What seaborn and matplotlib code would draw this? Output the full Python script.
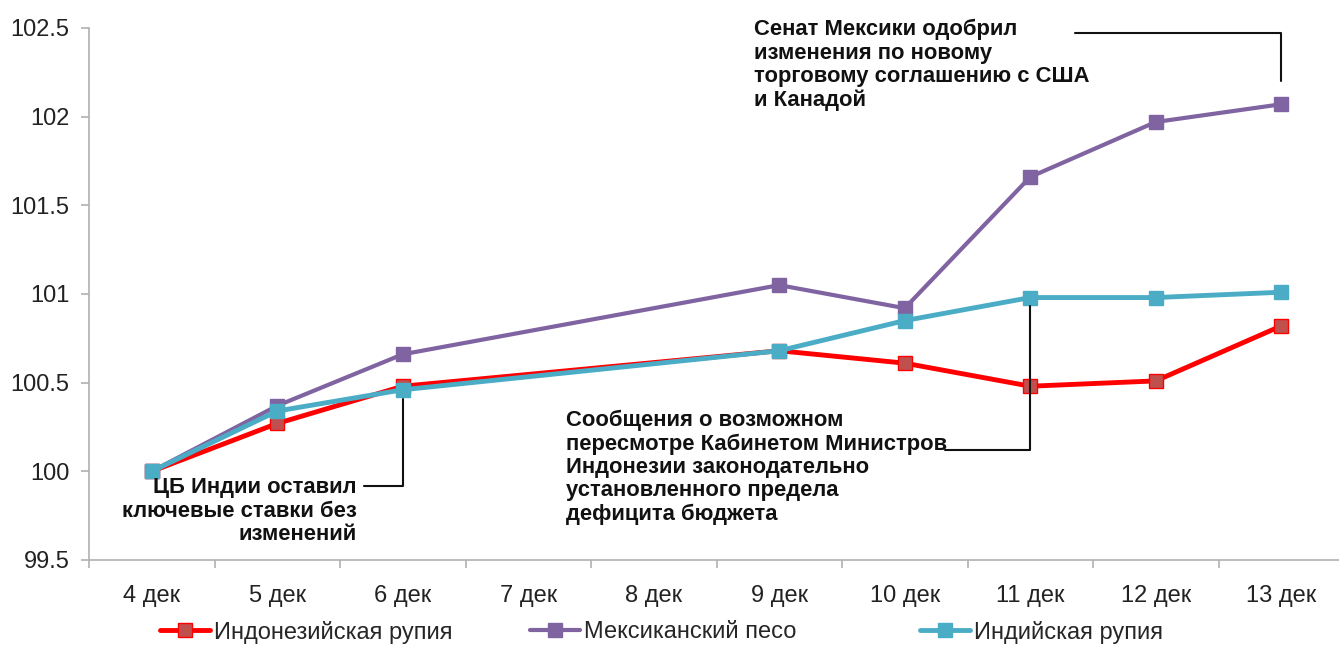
import numpy as np
import pandas as pd
import seaborn as sns
import matplotlib.pyplot as plt
from matplotlib.ticker import FuncFormatter, FixedLocator

sns.set_style("white")
plt.rcParams['font.family'] = ['Liberation Sans', 'DejaVu Sans']

# %% Данные
days = ["4 дек", "5 дек", "6 дек", "7 дек", "8 дек", "9 дек", "10 дек", "11 дек", "12 дек", "13 дек"]
obs_days = ["4 дек", "5 дек", "6 дек", "9 дек", "10 дек", "11 дек", "12 дек", "13 дек"]
idr = [100, 100.27, 100.48, 100.68, 100.61, 100.48, 100.51, 100.82]
mxn = [100, 100.37, 100.66, 101.05, 100.92, 101.66, 101.97, 102.07]
inr = [100, 100.34, 100.46, 100.68, 100.85, 100.98, 100.98, 101.01]

names = ["Индонезийская рупия", "Мексиканский песо", "Индийская рупия"]
series = [idr, mxn, inr]

pos = [days.index(d) for d in obs_days]
df = pd.concat([pd.DataFrame({"x": pos, "val": s, "cur": n}) for n, s in zip(names, series)])

styles = {
    "Индонезийская рупия": dict(color="#FF0000", mfc="#C0504D", mec="#FF0000", lw=3.5),
    "Мексиканский песо": dict(color="#8064A2", mfc="#8064A2", mec="#8064A2", lw=3),
    "Индийская рупия": dict(color="#4BACC6", mfc="#4BACC6", mec="#4BACC6", lw=3.5),
}

# %% График
fig = plt.figure(figsize=(13.39, 6.46), dpi=100)
ax = fig.add_axes([89 / 1339, 1 - 560 / 646, 1255 / 1339, 532 / 646])

for n in names:
    st = styles[n]
    sns.lineplot(data=df[df["cur"] == n], x="x", y="val", ax=ax, label=n,
                 color=st["color"], lw=st["lw"], marker="s", markersize=9.5,
                 markerfacecolor=st["mfc"], markeredgecolor=st["mec"], markeredgewidth=1,
                 legend=False)

ax.set_xlim(-0.5, len(days) - 0.5)
ax.set_ylim(99.5, 102.5)
ax.set_xticks(range(len(days)))
ax.set_xticklabels(days)
ax.xaxis.set_minor_locator(FixedLocator(np.arange(-0.5, len(days), 1)))
ax.set_yticks(np.arange(99.5, 102.51, 0.5))
ax.yaxis.set_major_formatter(FuncFormatter(lambda v, p: f"{v:g}"))
ax.tick_params(axis="x", which="major", length=0, pad=18, labelsize=17, colors="#222222")
ax.tick_params(axis="x", which="minor", length=6, width=1.2, color="#b0b0b0", bottom=True)
ax.tick_params(axis="y", length=6, width=1.2, pad=8, color="#b0b0b0", labelsize=17,
               labelcolor="#222222", left=True)
ax.set_xlabel("")
ax.set_ylabel("")
for s in ["top", "right"]:
    ax.spines[s].set_visible(False)
for s in ["left", "bottom"]:
    ax.spines[s].set_color("#b0b0b0")
    ax.spines[s].set_linewidth(1.2)

# %% Аннотации
tk = dict(fontsize=15.8, fontweight="bold", color="#111111", linespacing=1.15)
lk = dict(color="#111111", lw=1.5)

i6 = days.index("6 дек")
y6 = inr[obs_days.index("6 дек")]
ax.text(1.635, 99.967, "ЦБ Индии оставил\nключевые ставки без\nизменений", ha="right", va="top", **tk)
ax.plot([1.69, i6, i6], [99.917, 99.917, y6 - 0.05], **lk)

i11 = days.index("11 дек")
y11 = inr[obs_days.index("11 дек")]
ax.text(3.3, 100.348, "Сообщения о возможном\nпересмотре Кабинетом Министров\nИндонезии законодательно\n"
        "установленного предела\nдефицита бюджета", ha="left", va="top", **tk)
ax.plot([6.32, i11, i11], [100.12, 100.12, y11 - 0.05], **lk)

i13 = days.index("13 дек")
y13 = mxn[obs_days.index("13 дек")]
ax.text(4.8, 102.55, "Сенат Мексики одобрил\nизменения по новому\nторговому соглашению с США\nи Канадой",
        ha="left", va="top", **tk)
ax.plot([7.36, i13, i13], [102.47, 102.47, y13 + 0.13], **lk)

# %% Легенда (три отдельных блока, как в исходнике)
h, l = ax.get_legend_handles_labels()
for hi, li, x0 in zip(h, l, [160, 530, 920]):
    fig.legend([hi], [li], loc="center left", bbox_to_anchor=(x0 / 1339, 1 - 632 / 646),
               frameon=False, fontsize=17, handlelength=2.1, handletextpad=0.2,
               borderpad=0, borderaxespad=0)

fig.savefig("out.png", dpi=100)
